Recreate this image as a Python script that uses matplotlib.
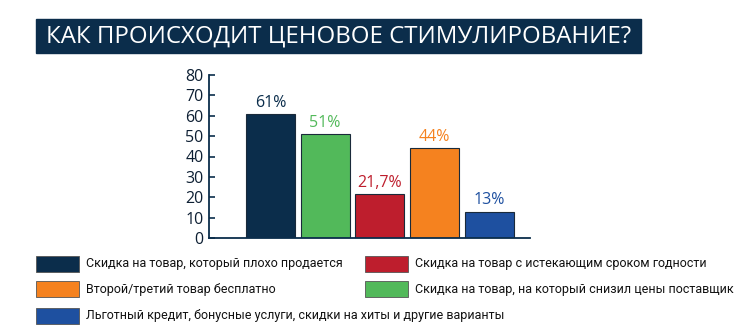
import matplotlib
matplotlib.use('Agg')
import matplotlib.pyplot as plt
from matplotlib.patches import Rectangle

# данные
values = [61, 51, 21.7, 44, 13]
value_labels = ['61%', '51%', '21,7%', '44%', '13%']
colors = ['#0b2d4b', '#52b95a', '#be1e2d', '#f5821f', '#1e50a0']
yticks = [0, 10, 20, 30, 40, 50, 60, 70, 80]

legend_labels = ['Скидка на товар, который плохо продается',
                 'Скидка на товар с истекающим сроком годности',
                 'Второй/третий товар бесплатно',
                 'Скидка на товар, на который снизил цены поставщик',
                 'Льготный кредит, бонусные услуги, скидки на хиты и другие варианты']
legend_colors = ['#0b2d4b', '#be1e2d', '#f5821f', '#52b95a', '#1e50a0']
title = 'КАК ПРОИСХОДИТ ЦЕНОВОЕ СТИМУЛИРОВАНИЕ?'

navy = '#0b2d4b'
plt.rcParams['font.family'] = ['Open Sans', 'DejaVu Sans']

fig = plt.figure(figsize=(7.5, 3.33), dpi=100)
W, H = 750, 333

def fx(px): return px / W
def fy(py): return 1 - py / H

# заголовок
fig.patches.append(Rectangle((fx(36), fy(53)), fx(641) - fx(36), fy(19) - fy(53),
                             transform=fig.transFigure, color=navy, zorder=0))
fig.text(fx(46), fy(36.5), title, color='white', fontsize=17.3,
         va='center', ha='left')

ax = fig.add_axes([fx(209), fy(238), fx(530) - fx(209), fy(75) - fy(238)])
x = list(range(len(values)))
ax.bar(x, values, width=0.895, color=colors, edgecolor='#1a2a3a', linewidth=0.8)
for i, v in enumerate(values):
    ax.text(i, v + 1.5, value_labels[i], ha='center', va='bottom',
            color=colors[i], fontsize=11.5)

ax.set_xlim(-1.12, 4.74)
ax.set_ylim(0, 80)
ax.set_xticks([])
ax.set_yticks(yticks)
ax.tick_params(axis='y', direction='in', length=4, width=1.2, color=navy,
               labelsize=11.5, labelcolor='#0d1f33', pad=4)
for s in ['top', 'right']:
    ax.spines[s].set_visible(False)
ax.spines['left'].set_color(navy)
ax.spines['bottom'].set_color(navy)
ax.spines['left'].set_linewidth(1.3)
ax.spines['bottom'].set_linewidth(1.3)

# легенда вручную: две колонки, три строки
rows = [264, 289, 316]
cols = [36, 365]
for k, (lab, c) in enumerate(zip(legend_labels, legend_colors)):
    r, cc = divmod(k, 2)
    px, py = cols[cc], rows[r]
    fig.patches.append(Rectangle((fx(px), fy(py + 8)), fx(43), 16 / H,
                                 transform=fig.transFigure, facecolor=c,
                                 edgecolor='#555555', linewidth=0.6))
    fig.text(fx(px + 50), fy(py), lab, fontsize=9,
             family=['Roboto', 'DejaVu Sans'],
             color='#111111', va='center', ha='left')

fig.savefig('out.png', dpi=100)
